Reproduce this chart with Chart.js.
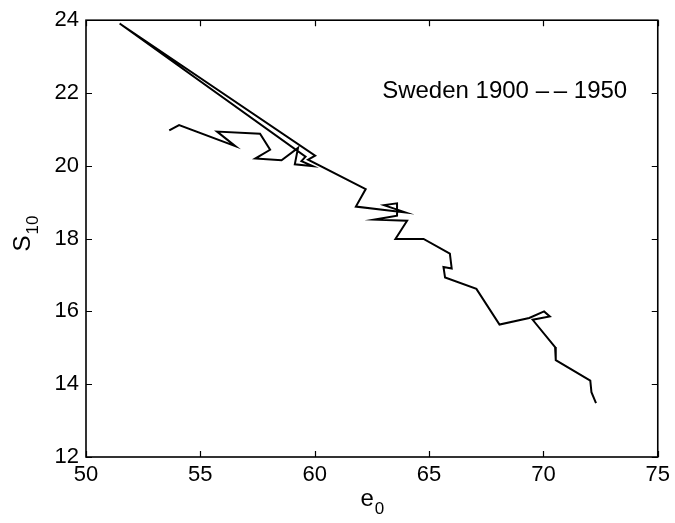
<!DOCTYPE html>
<html>
<head>
<meta charset="utf-8">
<script src="https://cdn.jsdelivr.net/npm/chart.js@4/dist/chart.umd.min.js"></script>
<style>
  html, body { margin: 0; padding: 0; background: #fff; }
  #wrap { width: 675px; height: 523px; position: relative; }
</style>
</head>
<body>
<div id="wrap"><canvas id="c"></canvas></div>
<script>
// Life expectancy at birth (e0) against the spread of adult ages at death (S10), year by year
const e0 = [53.64, 54.07, 56.53, 55.73, 57.61, 58.05, 57.40, 58.55, 59.27, 59.13, 59.92, 59.42, 59.60,
            51.47, 60.02, 59.71, 62.23, 61.80, 63.96, 63.03, 63.60, 63.60, 62.60, 64.04, 63.53, 64.76,
            65.91, 65.99, 65.63, 65.70, 67.07, 68.08, 69.38, 70.03, 70.28, 69.53, 70.51, 70.54, 72.05,
            72.10, 72.30];
const s10 = [20.97, 21.12, 20.54, 20.94, 20.88, 20.44, 20.20, 20.15, 20.49, 20.04, 19.99, 20.13, 20.25,
             23.91, 20.28, 20.17, 19.36, 18.88, 18.72, 18.92, 18.97, 18.63, 18.52, 18.49, 17.99, 17.99,
             17.59, 17.18, 17.22, 16.93, 16.62, 15.64, 15.82, 16.00, 15.86, 15.77, 15.02, 14.66, 14.10,
             13.78, 13.48];
const xTicks = [50, 55, 60, 65, 70, 75];
const yTicks = [12, 14, 16, 18, 20, 22, 24];
const caption = 'Sweden 1900 \u2013\u2009\u2013 1950';
const captionAt = { x: 62.95, y: 22.04 };

const FONT = '"Liberation Sans", Arial, Helvetica, sans-serif';
const points = e0.map((x, i) => ({ x: x, y: s10[i] }));

// Draws a base string followed by a lowered, smaller subscript, centred on (cx, baseline)
function subText(ctx, base, sub, cx, baseline, size, subSize, drop) {
  ctx.font = size + 'px ' + FONT;
  const wb = ctx.measureText(base).width;
  ctx.font = subSize + 'px ' + FONT;
  const ws = ctx.measureText(sub).width;
  const start = cx - (wb + ws) / 2;
  ctx.textAlign = 'left';
  ctx.textBaseline = 'alphabetic';
  ctx.font = size + 'px ' + FONT;
  ctx.fillText(base, start, baseline);
  ctx.font = subSize + 'px ' + FONT;
  ctx.fillText(sub, start + wb + 1, baseline + drop);
}

const framePlugin = {
  id: 'frame',
  afterDraw(chart) {
    const { ctx, chartArea: a, scales: { x, y } } = chart;
    ctx.save();
    ctx.strokeStyle = '#000';
    ctx.lineWidth = 1.6;
    ctx.strokeRect(a.left, a.top, a.right - a.left, a.bottom - a.top);
    // inward tick marks on all four sides
    const tl = 6;
    ctx.beginPath();
    x.ticks.forEach(t => {
      const px = Math.round(x.getPixelForValue(t.value)) + 0.5;
      ctx.moveTo(px, a.bottom); ctx.lineTo(px, a.bottom - tl);
      ctx.moveTo(px, a.top); ctx.lineTo(px, a.top + tl);
    });
    y.ticks.forEach(t => {
      const py = Math.round(y.getPixelForValue(t.value)) + 0.5;
      ctx.moveTo(a.left, py); ctx.lineTo(a.left + tl, py);
      ctx.moveTo(a.right, py); ctx.lineTo(a.right - tl, py);
    });
    ctx.lineWidth = 1.2;
    ctx.stroke();

    ctx.fillStyle = '#000';
    // caption inside the plot
    ctx.font = '24px ' + FONT;
    ctx.textAlign = 'left';
    ctx.textBaseline = 'middle';
    ctx.fillText(caption, x.getPixelForValue(captionAt.x), y.getPixelForValue(captionAt.y));

    // axis titles
    subText(ctx, 'e', '0', (a.left + a.right) / 2, 506, 24, 17, 8);
    ctx.save();
    ctx.translate(30, 234);
    ctx.rotate(-Math.PI / 2);
    subText(ctx, 'S', '10', 0, 0, 24, 17, 8);
    ctx.restore();
    ctx.restore();
  }
};

new Chart(document.getElementById('c'), {
  type: 'scatter',
  data: {
    datasets: [{
      data: points,
      showLine: true,
      borderColor: '#000',
      borderWidth: 2,
      borderJoinStyle: 'miter',
      pointRadius: 0,
      pointHoverRadius: 0,
      tension: 0
    }]
  },
  options: {
    responsive: true,
    maintainAspectRatio: false,
    animation: false,
    events: [],
    layout: { padding: { top: 16, right: 12, left: 0, bottom: 0 } },
    plugins: { legend: { display: false }, tooltip: { enabled: false } },
    scales: {
      x: {
        type: 'linear',
        min: 50, max: 75,
        afterBuildTicks: s => { s.ticks = xTicks.map(v => ({ value: v })); },
        afterFit: s => { s.height = 66; },
        grid: { display: false, drawTicks: false },
        border: { display: false },
        ticks: { color: '#000', padding: 5, font: { family: FONT, size: 22 } }
      },
      y: {
        type: 'linear',
        min: 12, max: 24,
        afterBuildTicks: s => { s.ticks = yTicks.map(v => ({ value: v })); },
        afterFit: s => { s.width = 86; },
        grid: { display: false, drawTicks: false },
        border: { display: false },
        ticks: { color: '#000', padding: 7, font: { family: FONT, size: 22 } }
      }
    }
  },
  plugins: [framePlugin]
});
</script>
</body>
</html>
